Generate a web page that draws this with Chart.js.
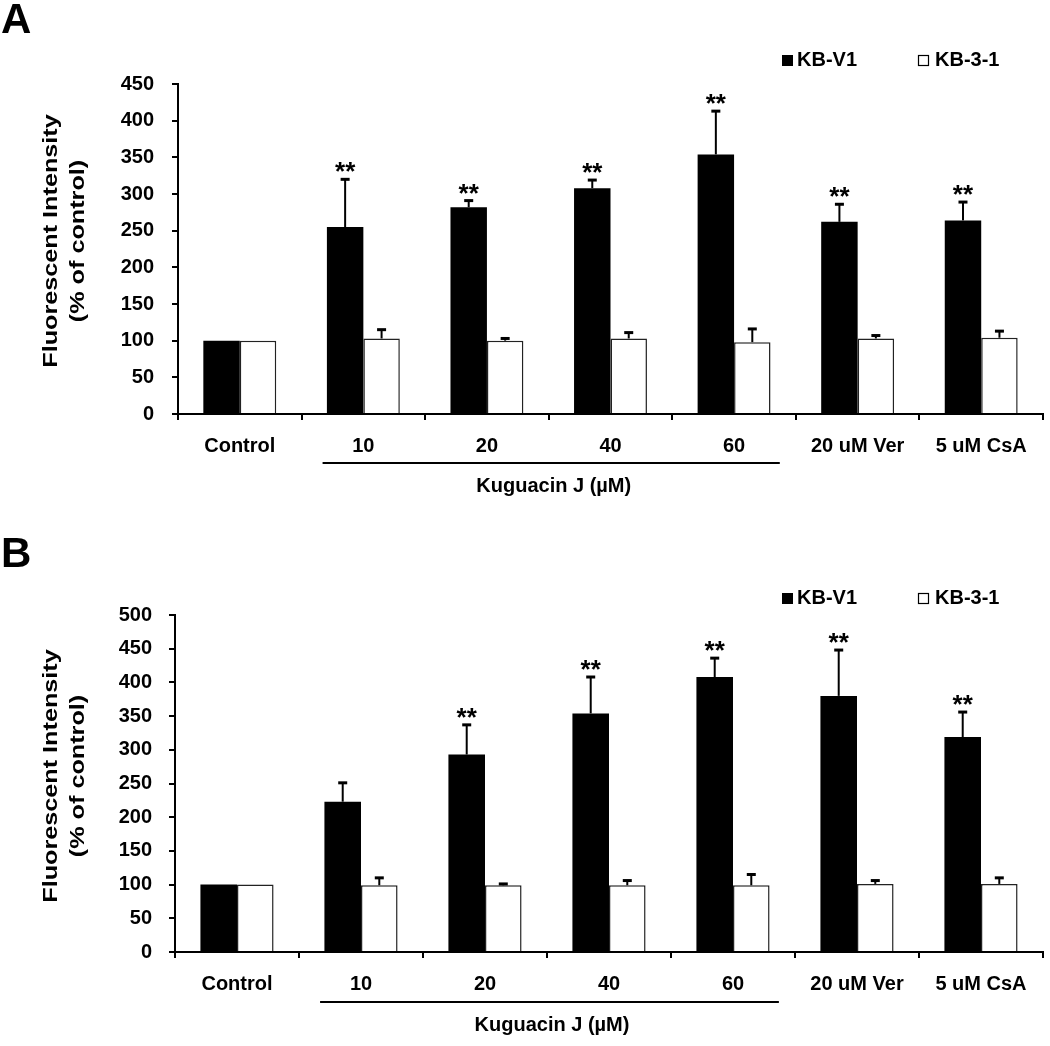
<!DOCTYPE html>
<html>
<head>
<meta charset="utf-8">
<script src="https://cdn.jsdelivr.net/npm/chart.js@4.4.1/dist/chart.umd.min.js"></script>
<style>
  body { margin: 0; background: #fff; width: 1050px; height: 1046px; overflow: hidden; position: relative; }
  canvas { position: absolute; left: 0; }
  #chartA { top: 0; }
  #chartB { top: 520px; }
</style>
</head>
<body>
<canvas id="chartA" width="1050" height="520"></canvas>
<canvas id="chartB" width="1050" height="526"></canvas>
<script>
// categories shared by both panels
const categories = ['Control', '10', '20', '40', '60', '20 uM Ver', '5 uM CsA'];

// panel A: means and (upper) error sizes, % of control
const aKBV1 = [100, 255, 282, 308, 354, 262, 264];
const aKBV1Err = [0, 65, 9, 11, 59, 24, 25];
const aKB31 = [100, 103, 100, 103, 98, 103, 104];
const aKB31Err = [0, 12, 3, 8, 18, 4, 9];
const aStars = [false, true, true, true, true, true, true];
const aTicks = { max: 450, step: 50 };

// panel B
const bKBV1 = [100, 223, 293, 354, 408, 380, 319];
const bKBV1Err = [0, 28, 44, 54, 28, 68, 37];
const bKB31 = [100, 99, 99, 99, 99, 101, 101];
const bKB31Err = [0, 11, 2, 7, 16, 5, 9];
const bStars = [false, false, true, true, true, true, true];
const bTicks = { max: 500, step: 50 };

const FONT = '"Liberation Sans", Arial, Helvetica, sans-serif';
Chart.defaults.font.family = FONT;
Chart.defaults.color = '#000';

// error bars, stars, legend, axis title, bracket and panel letter
const deco = {
  id: 'deco',
  afterDatasetsDraw(chart, args, o) {
    const ctx = chart.ctx, y = chart.scales.y;
    ctx.save();
    ctx.strokeStyle = '#000';
    ctx.fillStyle = '#000';
    o.errors.forEach((errs, d) => {
      const meta = chart.getDatasetMeta(d);
      const vals = chart.data.datasets[d].data;
      meta.data.forEach((bar, i) => {
        if (errs[i]) {
          const top = y.getPixelForValue(vals[i] + errs[i]);
          ctx.lineWidth = 2;
          ctx.beginPath(); ctx.moveTo(bar.x, bar.y); ctx.lineTo(bar.x, top); ctx.stroke();
          ctx.lineWidth = 3;
          ctx.beginPath(); ctx.moveTo(bar.x - 4.5, top); ctx.lineTo(bar.x + 4.5, top); ctx.stroke();
          if (d === 0 && o.stars[i]) {
            ctx.font = 'bold 26px ' + FONT;
            ctx.textAlign = 'center';
            ctx.textBaseline = 'alphabetic';
            ctx.fillText('**', bar.x, top + 1);
          }
        }
      });
    });
    ctx.restore();
  },
  afterDraw(chart, args, o) {
    const ctx = chart.ctx, x = chart.scales.x;
    ctx.save();
    ctx.fillStyle = '#000';
    ctx.strokeStyle = '#000';

    // panel letter
    ctx.font = 'bold 42px ' + FONT;
    ctx.textAlign = 'left';
    ctx.textBaseline = 'alphabetic';
    ctx.fillText(o.letter, 1, o.letterY);

    // legend
    ctx.font = 'bold 20px ' + FONT;
    ctx.fillRect(782, o.legendY - 11, 11, 11);
    ctx.fillText('KB-V1', 797, o.legendY);
    ctx.lineWidth = 1.2;
    ctx.strokeRect(918.5, o.legendY - 10.5, 10, 10);
    ctx.fillText('KB-3-1', 935, o.legendY);

    // y axis title, two lines, stretched along the text
    ctx.font = 'bold 21px ' + FONT;
    ctx.textAlign = 'center';
    ctx.textBaseline = 'middle';
    o.title.forEach((t, k) => {
      ctx.save();
      ctx.translate(o.titleX[k], o.titleY);
      ctx.rotate(-Math.PI / 2);
      ctx.scale(1.2, 1);
      ctx.fillText(t, 0, 0);
      ctx.restore();
    });

    // bracket under the Kuguacin J doses
    const cw = x.getPixelForValue(1) - x.getPixelForValue(0);
    const x0 = x.getPixelForValue(1) - 0.33 * cw;
    const x1 = x.getPixelForValue(4) + 0.37 * cw;
    ctx.lineWidth = 2;
    ctx.beginPath(); ctx.moveTo(x0, o.bracketY); ctx.lineTo(x1, o.bracketY); ctx.stroke();
    ctx.font = 'bold 20px ' + FONT;
    ctx.textBaseline = 'alphabetic';
    ctx.fillText('Kuguacin J (\u00b5M)', (x.getPixelForValue(1) + x.getPixelForValue(4)) / 2 + 5, o.bracketY + 29);
    ctx.restore();
  }
};

function makeChart(id, v1, v1Err, v31, v31Err, stars, ticks, lay) {
  return new Chart(document.getElementById(id), {
    type: 'bar',
    data: {
      labels: categories,
      datasets: [
        { label: 'KB-V1', data: v1, backgroundColor: '#000', borderColor: '#000', borderWidth: 0 },
        { label: 'KB-3-1', data: v31, backgroundColor: '#fff', borderColor: '#222', borderWidth: 1.5 }
      ]
    },
    options: {
      responsive: false,
      animation: false,
      categoryPercentage: 0.59,
      barPercentage: 1.0,
      layout: { padding: { top: lay.top, right: 7, bottom: lay.bottom, left: 0 } },
      plugins: {
        legend: { display: false },
        tooltip: { enabled: false },
        deco: {
          errors: [v1Err, v31Err],
          stars: stars,
          letter: lay.letter,
          letterY: lay.letterY,
          legendY: lay.legendY,
          title: ['Fluorescent Intensity', '(% of control)'],
          titleX: [51, 78],
          titleY: lay.titleY,
          bracketY: lay.bracketY
        }
      },
      scales: {
        x: {
          afterFit: s => { s.height = 80; },
          grid: { drawOnChartArea: false, drawTicks: true, tickLength: 6, color: '#000', lineWidth: 2 },
          border: { color: '#000', width: 2 },
          ticks: { font: { size: 20, weight: 'bold' }, padding: 14, maxRotation: 0, autoSkip: false }
        },
        y: {
          min: 0,
          max: ticks.max,
          afterFit: s => { s.width = lay.left; },
          grid: { drawOnChartArea: false, drawTicks: true, tickLength: 6, color: '#000', lineWidth: 2 },
          border: { color: '#000', width: 2 },
          ticks: { stepSize: ticks.step, font: { size: 20, weight: 'bold' }, padding: lay.tickPad }
        }
      }
    },
    plugins: [deco]
  });
}

makeChart('chartA', aKBV1, aKBV1Err, aKB31, aKB31Err, aStars, aTicks,
  { letter: 'A', letterY: 33, legendY: 66, top: 84, bottom: 26, left: 178, tickPad: 18, titleY: 241, bracketY: 463 });
makeChart('chartB', bKBV1, bKBV1Err, bKB31, bKB31Err, bStars, bTicks,
  { letter: 'B', letterY: 47, legendY: 84, top: 95, bottom: 14, left: 175, tickPad: 17, titleY: 256, bracketY: 482 });
</script>
</body>
</html>
